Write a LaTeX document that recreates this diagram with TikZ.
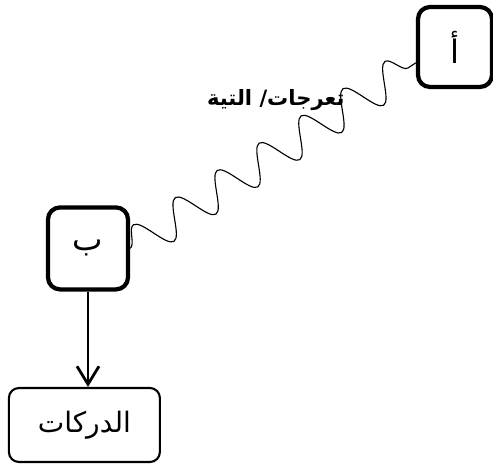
\documentclass[tikz,border=0pt]{standalone}
\usepackage{fontspec}
\newfontfamily\arabicfont[Script=Arabic]{DejaVu Sans}
\TeXXeTstate=1
\usetikzlibrary{arrows.meta,decorations.pathmorphing}

\begin{document}
\begin{tikzpicture}[
    letterbox/.style={draw, line width=3pt, rounded corners=0.3cm, inner sep=0pt},
    resultbox/.style={draw, line width=1.5pt, rounded corners=0.25cm, inner sep=0pt},
    wave/.style={decorate, decoration={snake, amplitude=0.45cm, segment length=1.25cm}, line width=0.8pt}
]
    % Frame
    \useasboundingbox (0, 0) rectangle (12.325, 11.6);

    % Letter boxes
    \node[letterbox, minimum width=1.85cm, minimum height=2cm] (alif) at (11.375, 10.425)
        {\arabicfont\fontsize{23}{26}\selectfont\beginR أ\endR};
    \node[letterbox, minimum width=2cm, minimum height=2.05cm] (ba) at (2.2, 5.39)
        {\arabicfont\fontsize{23}{26}\selectfont\beginR ب\endR};

    % Result box
    \node[resultbox, minimum width=3.775cm, minimum height=1.85cm] (darakat) at (2.11, 0.975)
        {\arabicfont\fontsize{20}{24}\selectfont\beginR الدركات\endR};

    % Wavy link between the two letters
    \draw[wave] (ba.east) -- (alif.202);
    \node[anchor=east, inner sep=0pt] (label) at (8.62, 9.1)
        {\arabicfont\bfseries\fontsize{15}{18}\selectfont\beginR تعرجات/ التية\endR};

    % Arrow down to the result
    \draw[line width=2pt, -{Straight Barb[length=0.45cm, width=0.55cm]}] (ba.south) -- (ba.south |- darakat.north);
\end{tikzpicture}
\end{document}
